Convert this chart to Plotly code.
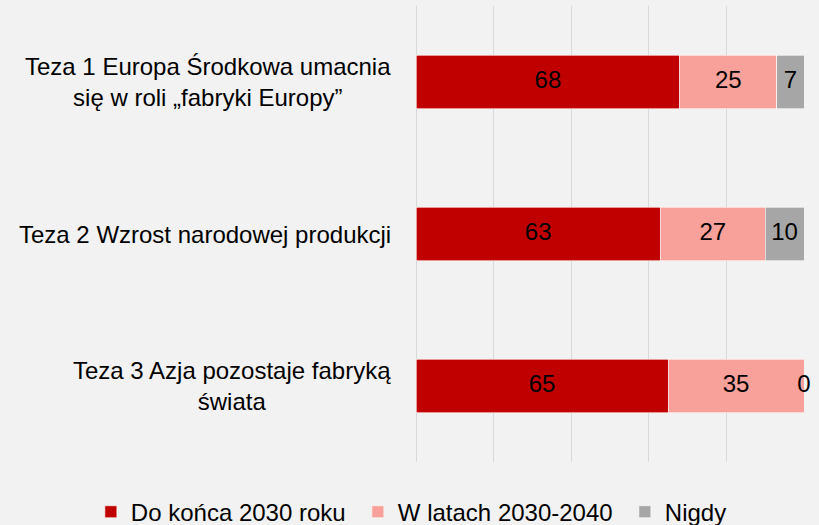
import plotly.graph_objects as go

categories = ["Teza 1 Europa Środkowa umacnia<br>się w roli „fabryki Europy”",
              "Teza 2 Wzrost narodowej produkcji",
              "Teza 3 Azja pozostaje fabryką<br>świata"]
series_names = ["Do końca 2030 roku", "W latach 2030-2040", "Nigdy"]
do_2030 = [68, 63, 65]
lata_2030_2040 = [25, 27, 35]
nigdy = [7, 10, 0]
colors = ["#C00000", "#F8A19A", "#A6A6A6"]

series = [do_2030, lata_2030_2040, nigdy]
ykeys = ["T1", "T2", "T3"]
FONT = "Liberation Sans, Arial, sans-serif"

fig = go.Figure()
for name, vals, col in zip(series_names, series, colors):
    fig.add_trace(go.Bar(
        y=ykeys, x=vals, name=name, orientation="h",
        marker=dict(color=col, line=dict(color="#FFFFFF", width=0.6)),
        textposition="none", hoverinfo="skip",
    ))

# value labels at segment centres
lx, ly, lt = [], [], []
cum = [0] * len(ykeys)
for vals in series:
    for i, v in enumerate(vals):
        lx.append(cum[i] + v / 2)
        ly.append(ykeys[i])
        lt.append(str(v))
        cum[i] += v
fig.add_trace(go.Scatter(x=lx, y=ly, text=lt, mode="text", showlegend=False,
                         cliponaxis=False,
                         textfont=dict(size=24, color="#000000", family=FONT),
                         hoverinfo="skip"))

# category labels (left of plot area)
for k, c in zip(ykeys, categories):
    fig.add_annotation(x=-0.058, xref="paper", y=k, yref="y", text=c,
                       xanchor="right", yanchor="middle", align="center",
                       showarrow=False,
                       font=dict(size=24, color="#000000", family=FONT))

fig.update_layout(
    barmode="stack",
    bargap=0.65,
    width=819, height=525,
    margin=dict(l=416, r=15, t=6, b=63, autoexpand=False),
    paper_bgcolor="#F2F2F2", plot_bgcolor="#F2F2F2",
    font=dict(family=FONT, size=24, color="#000000"),
    showlegend=True,
    legend=dict(orientation="h", x=-0.838, xanchor="left", y=-0.11, yanchor="middle",
                font=dict(size=24, family=FONT), traceorder="normal",
                entrywidth=222, entrywidthmode="pixels",
                bgcolor="rgba(0,0,0,0)"),
    xaxis=dict(range=[0, 100], dtick=20, showgrid=True, gridcolor="#D9D9D9",
               gridwidth=1.3, zeroline=True, zerolinecolor="#D9D9D9",
               zerolinewidth=1.3, showticklabels=False, ticks="", showline=False),
    yaxis=dict(categoryorder="array", categoryarray=ykeys[::-1],
               showticklabels=False, ticks="", showgrid=False, zeroline=False),
)
fig.write_html("out.html")
